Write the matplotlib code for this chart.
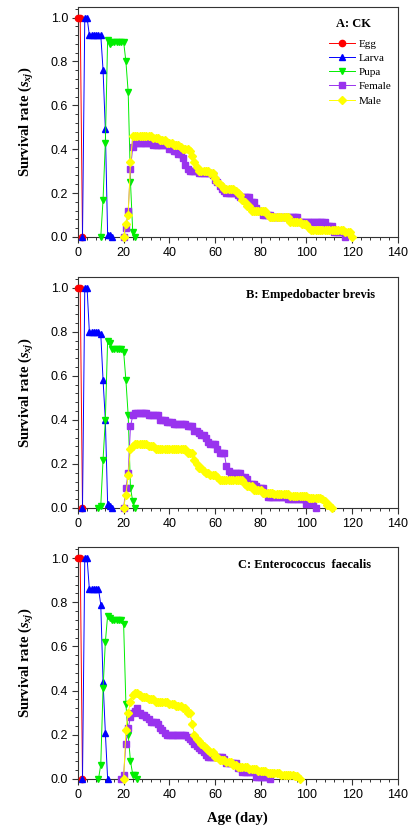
import numpy as np
import matplotlib
matplotlib.use("Agg")
import matplotlib.pyplot as plt
from matplotlib.ticker import MultipleLocator, FormatStrFormatter

plt.rcParams['font.family'] = ['Liberation Sans', 'DejaVu Sans']
plt.rcParams['mathtext.fontset'] = 'custom'
plt.rcParams['mathtext.rm'] = 'Liberation Serif:bold'
plt.rcParams['mathtext.it'] = 'Liberation Serif:bold:italic'

# ---- data (survival rate by age, day) ----
egg_start = 0
egg = [1.0, 1.0, 0.0]

# A: CK
larva_a_start = 2
larva_a = [0.0, 1.0, 1.0, 0.92, 0.92, 0.92, 0.92, 0.92, 0.92, 0.76, 0.49, 0.01, 0.01, 0.0]
pupa_a_start = 10
pupa_a = [0.0, 0.17, 0.43, 0.90, 0.88, 0.89, 0.89, 0.89, 0.89, 0.89, 0.89, 0.80, 0.66, 0.25, 0.02, 0.0]
female_a_start = 20
female_a = [0.0, 0.04, 0.12, 0.31, 0.41,
            0.43, 0.43, 0.43, 0.43, 0.43, 0.43, 0.43, 0.43,
            0.42, 0.42, 0.42, 0.42, 0.42, 0.42, 0.42,
            0.40, 0.40, 0.39, 0.39, 0.38, 0.38, 0.36, 0.33, 0.31,
            0.30, 0.30, 0.30, 0.30, 0.29, 0.29, 0.29, 0.29, 0.29, 0.29,
            0.28, 0.26, 0.25, 0.23, 0.22, 0.21,
            0.20, 0.20, 0.20, 0.20, 0.20, 0.19,
            0.18, 0.18, 0.18, 0.18, 0.18, 0.16, 0.16, 0.13, 0.12, 0.12,
            0.10, 0.10, 0.10, 0.10,
            0.09, 0.09, 0.09, 0.09, 0.09, 0.09, 0.09, 0.09, 0.09, 0.09, 0.09, 0.09,
            0.07, 0.07, 0.07, 0.07, 0.07, 0.07, 0.07, 0.07, 0.07, 0.07, 0.07, 0.07,
            0.05, 0.05, 0.05, 0.02, 0.02, 0.02, 0.02, 0.02, 0.0]
male_a_start = 20
male_a = [0.0, 0.06, 0.10, 0.34, 0.46,
          0.46, 0.46, 0.46, 0.46, 0.46, 0.46, 0.46, 0.46,
          0.45, 0.45, 0.45, 0.44, 0.44, 0.44, 0.43, 0.43, 0.43,
          0.42, 0.42, 0.42, 0.41, 0.40, 0.40, 0.40,
          0.39, 0.37, 0.34, 0.32, 0.30, 0.30, 0.30, 0.30, 0.30, 0.29, 0.29,
          0.27, 0.25, 0.24, 0.23, 0.22, 0.22, 0.22, 0.22, 0.22,
          0.21, 0.20, 0.19, 0.17, 0.16, 0.14, 0.14,
          0.12, 0.12, 0.12, 0.12, 0.12, 0.12, 0.12, 0.10,
          0.09, 0.09, 0.09, 0.09, 0.09, 0.09, 0.09, 0.09, 0.09,
          0.07, 0.07, 0.07, 0.07, 0.07, 0.06, 0.06, 0.06, 0.04,
          0.03, 0.03, 0.03, 0.03, 0.03, 0.03, 0.03, 0.03, 0.03, 0.03, 0.03, 0.03, 0.03, 0.03, 0.03,
          0.02, 0.02, 0.02, 0.0]

# B: Empedobacter brevis
larva_b_start = 2
larva_b = [0.0, 1.0, 1.0, 0.80, 0.80, 0.80, 0.80, 0.80, 0.79, 0.58, 0.40, 0.02, 0.01, 0.0]
pupa_b_start = 9
pupa_b = [0.0, 0.01, 0.22, 0.40, 0.76, 0.75, 0.72, 0.72, 0.72, 0.72, 0.72, 0.71, 0.58, 0.42, 0.09, 0.03, 0.0]
female_b_start = 20
female_b = [0.0, 0.09, 0.16, 0.37, 0.42,
            0.43, 0.43, 0.43, 0.43, 0.43, 0.43,
            0.42, 0.42, 0.42, 0.42, 0.42,
            0.40, 0.40, 0.40, 0.39, 0.39, 0.39,
            0.38, 0.38, 0.38, 0.38, 0.38, 0.38,
            0.37, 0.37, 0.37, 0.35, 0.35, 0.34, 0.33, 0.33, 0.32, 0.30,
            0.29, 0.29, 0.29, 0.27, 0.25, 0.25, 0.25, 0.19, 0.17,
            0.16, 0.16, 0.16, 0.16, 0.16, 0.14, 0.14, 0.13, 0.11, 0.11, 0.11, 0.10,
            0.09, 0.09, 0.09, 0.07,
            0.05, 0.05, 0.05, 0.05, 0.05, 0.05, 0.05, 0.05, 0.05,
            0.04, 0.04, 0.04, 0.04, 0.04, 0.04, 0.04, 0.04,
            0.02, 0.02, 0.02, 0.02, 0.0]
male_b_start = 20
male_b = [0.0, 0.06, 0.15, 0.27, 0.28,
          0.29, 0.29, 0.29, 0.29, 0.29, 0.29, 0.28, 0.28, 0.28,
          0.27, 0.27, 0.27, 0.27, 0.27, 0.27, 0.27, 0.27, 0.27, 0.27, 0.27, 0.27, 0.27, 0.27,
          0.25, 0.25, 0.25, 0.22, 0.20, 0.18, 0.18, 0.17, 0.16, 0.16,
          0.15, 0.15, 0.15, 0.14,
          0.125, 0.125, 0.125, 0.125, 0.125, 0.125, 0.125, 0.125, 0.125, 0.125, 0.125,
          0.11, 0.10, 0.10, 0.10, 0.08, 0.08, 0.08, 0.08,
          0.07, 0.07, 0.07, 0.07, 0.07,
          0.065, 0.065, 0.065, 0.065, 0.065, 0.065, 0.065,
          0.055, 0.055, 0.055, 0.055, 0.055, 0.055, 0.055, 0.055,
          0.045, 0.045, 0.045, 0.045, 0.045, 0.045, 0.04, 0.03, 0.015, 0.015, 0.0]

# C: Enterococcus faecalis
larva_c_start = 2
larva_c = [0.0, 1.0, 1.0, 0.86, 0.86, 0.86, 0.86, 0.86, 0.79, 0.44, 0.21, 0.0]
pupa_c_start = 9
pupa_c = [0.0, 0.065, 0.41, 0.62, 0.74, 0.73, 0.72, 0.72, 0.72, 0.72, 0.72, 0.70,
          0.34, 0.20, 0.08, 0.02, 0.02, 0.0]
female_c_start = 19
female_c = [0.0, 0.02, 0.16, 0.23, 0.28, 0.30, 0.31, 0.32, 0.30, 0.29, 0.29, 0.28, 0.27,
            0.26, 0.26, 0.26, 0.25, 0.23, 0.22, 0.21,
            0.20, 0.20, 0.20, 0.20, 0.20, 0.20, 0.20, 0.20, 0.20,
            0.19, 0.18, 0.17, 0.16, 0.15, 0.14, 0.13, 0.12, 0.11,
            0.10, 0.10, 0.10, 0.10, 0.10, 0.10, 0.10, 0.09,
            0.07, 0.07, 0.07, 0.07, 0.07, 0.05, 0.05,
            0.03, 0.03, 0.03, 0.03, 0.03, 0.03,
            0.01, 0.01, 0.01, 0.01, 0.01, 0.01, 0.0]
male_c_start = 20
male_c = [0.0, 0.22, 0.30, 0.35, 0.38, 0.39, 0.39, 0.38, 0.37, 0.37, 0.37,
          0.36, 0.36, 0.36, 0.35, 0.35, 0.35, 0.35, 0.35, 0.35,
          0.34, 0.34, 0.34, 0.33, 0.33, 0.33, 0.32, 0.32, 0.30, 0.30,
          0.25, 0.20, 0.18, 0.17, 0.16, 0.15, 0.14, 0.13, 0.12, 0.12, 0.10, 0.10,
          0.085, 0.085, 0.085, 0.075, 0.075, 0.075, 0.065, 0.065,
          0.053, 0.053, 0.053, 0.053, 0.053, 0.043, 0.043, 0.043, 0.043,
          0.035, 0.035, 0.035, 0.035, 0.027, 0.027, 0.027, 0.027, 0.027, 0.027,
          0.02, 0.02, 0.02, 0.02, 0.02, 0.02, 0.012, 0.012, 0.0]

stage_names = ["Egg", "Larva", "Pupa", "Female", "Male"]
colors = ["#ff0000", "#0000ff", "#00ee00", "#9933ee", "#ffff00"]
markers = ["o", "^", "v", "s", "D"]
msizes = [4.5, 4.5, 4.5, 4.2, 3.8]

panels = [
    ("A: CK", [(egg_start, egg), (larva_a_start, larva_a), (pupa_a_start, pupa_a),
               (female_a_start, female_a), (male_a_start, male_a)]),
    ("B: Empedobacter brevis", [(egg_start, egg), (larva_b_start, larva_b), (pupa_b_start, pupa_b),
                                (female_b_start, female_b), (male_b_start, male_b)]),
    ("C: Enterococcus  faecalis", [(egg_start, egg), (larva_c_start, larva_c), (pupa_c_start, pupa_c),
                                   (female_c_start, female_c), (male_c_start, male_c)]),
]

fig = plt.figure(figsize=(4.08, 8.34), dpi=100)
boxes = [[0.191, 0.716, 0.784, 0.276],
         [0.191, 0.391, 0.784, 0.277],
         [0.191, 0.066, 0.784, 0.278]]
serif = ['Liberation Serif', 'DejaVu Serif']
edge = '#333333'

for k, (title, series) in enumerate(panels):
    ax = fig.add_axes(boxes[k])
    for (start, vals), name, c, m, ms in zip(series, stage_names, colors, markers, msizes):
        age = np.arange(start, start + len(vals))
        ax.plot(age, vals, color=c, lw=0.7, marker=m, ms=ms, mec=c, mfc=c,
                label=name, clip_on=False, zorder=3)

    ax.set_xlim(0, 140)
    ax.set_ylim(0, 1.05)
    ax.xaxis.set_major_locator(MultipleLocator(20))
    ax.xaxis.set_minor_locator(MultipleLocator(4))
    ax.yaxis.set_major_locator(MultipleLocator(0.2))
    ax.yaxis.set_minor_locator(MultipleLocator(0.04))
    ax.yaxis.set_major_formatter(FormatStrFormatter('%.1f'))
    ax.tick_params(which='major', direction='out', length=4, width=0.8,
                   color=edge, labelsize=9, pad=3)
    ax.tick_params(which='minor', direction='out', length=2.2, width=0.7, color=edge)
    for sp in ax.spines.values():
        sp.set_color(edge)
        sp.set_linewidth(0.8)

    ax.set_ylabel("Survival rate ($s_{xj}$)", family=serif, fontweight='bold', fontsize=10.5)
    ax.yaxis.set_label_coords(-0.13, 0.5)

    if k == 0:
        ax.text(0.86, 0.925, title, transform=ax.transAxes, ha='center', va='center',
                family=serif, fontweight='bold', fontsize=9)
        leg = ax.legend(loc='upper left', bbox_to_anchor=(0.785, 0.86), frameon=False,
                        prop={'family': serif, 'size': 8}, handlelength=2.3,
                        handletextpad=0.4, labelspacing=0.4, borderaxespad=0, borderpad=0)
    else:
        ax.text(0.93 if k == 1 else 0.915, 0.922, title, transform=ax.transAxes,
                ha='right', va='center', family=serif, fontweight='bold', fontsize=9)

    if k == 2:
        ax.set_xlabel("Age (day)", family=serif, fontweight='bold', fontsize=10.5, labelpad=8)

fig.savefig("out.png", dpi=100)
